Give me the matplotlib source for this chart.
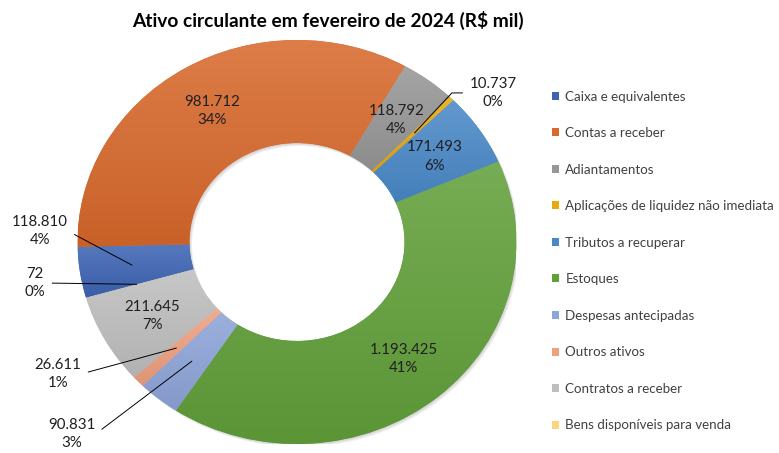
import matplotlib.pyplot as plt
import numpy as np
from matplotlib.colors import to_rgb
from matplotlib.patches import Wedge

categorias = ["Caixa e equivalentes", "Contas a receber", "Adiantamentos",
              "Aplicações de liquidez não imediata", "Tributos a recuperar",
              "Estoques", "Despesas antecipadas", "Outros ativos",
              "Contratos a receber", "Bens disponíveis para venda"]
valores = [118810, 981712, 118792, 10737, 171493, 1193425, 90831, 26611,
           211645, 72]
cores = ['#3D64B4', '#D8692C', '#979797', '#E8A90C', '#4A89C8', '#62A03A',
         '#8EA5D9', '#EFA07F', '#BFBFBF', '#FFD37C']

# etiquetas que ficam fora do anel: posição em unidades do raio
fora = {0: (-1.171, 0.054), 3: (0.893, 0.738), 6: (-1.025, -0.950),
        7: (-1.089, -0.653), 9: (-1.194, -0.203)}

plt.rcParams['font.family'] = ['Lato', 'DejaVu Sans']


def mistura(c, alvo, t):
    c = np.array(to_rgb(c))
    return c + (np.array(alvo) - c) * t


def fmt(v):
    return "{:,}".format(v).replace(",", ".")


fig = plt.figure(figsize=(7.79, 4.53), dpi=100)
ax = fig.add_axes([0.0995, 0.0199, 0.5635, 0.8918])

# sombra suave do anel
for k in range(1, 4):
    ax.add_patch(Wedge((0.004 * k, -0.005 * k), 1.0, 0, 360, width=0.51,
                       facecolor='black', alpha=0.06, lw=0, zorder=0.5))

wedges, _ = ax.pie(valores, colors=cores, startangle=196, counterclock=False,
                   radius=1, wedgeprops=dict(width=0.51, linewidth=0))

# gradiente vertical em cada fatia (claro em cima, escuro embaixo)
for w, c in zip(wedges, cores):
    ext = w.get_path().get_extents()
    grad = np.linspace(0, 1, 64)[:, None, None]
    img = mistura(c, (1, 1, 1), 0.13) * (1 - grad) + mistura(c, (0, 0, 0), 0.07) * grad
    im = ax.imshow(img, extent=(ext.x0, ext.x1, ext.y0, ext.y1), origin='upper',
                   aspect='auto', interpolation='bilinear', zorder=1.5)
    im.set_clip_path(w)

ax.set_aspect('auto')
ax.set_xlim(-1, 1)
ax.set_ylim(-1, 1)
ax.axis('off')

total = sum(valores)
for i, (w, v) in enumerate(zip(wedges, valores)):
    meio = np.deg2rad((w.theta1 + w.theta2) / 2)
    texto = "{}\n{}%".format(fmt(v), int(round(v / total * 100)))
    if i in fora:
        lado = (0, 0.5) if fora[i][0] > 0 else (1, 0.5)
        estilo = "angle,angleA=0,angleB=47,rad=0" if i == 3 else "arc3"
        ax.annotate(texto, xy=(0.76 * np.cos(meio), 0.76 * np.sin(meio)),
                    xytext=fora[i], ha='center', va='center', fontsize=10.8,
                    color='#1F1F1F', linespacing=1.4,
                    arrowprops=dict(arrowstyle='-', color='black', lw=0.7,
                                    relpos=lado, shrinkA=3, shrinkB=0,
                                    connectionstyle=estilo))
    else:
        ax.text(0.755 * np.cos(meio), 0.755 * np.sin(meio), texto,
                ha='center', va='center', fontsize=10.8, color='#1F1F1F',
                linespacing=1.4, zorder=4)

fig.text(0.421, 0.955, "Ativo circulante em fevereiro de 2024 (R$ mil)",
         ha='center', va='center', fontsize=13.8, fontweight='bold')

fig.legend(wedges, categorias, loc='upper left',
           bbox_to_anchor=(0.7086, 0.8002), frameon=False, fontsize=9.6,
           handlelength=0.55, handleheight=0.55, handletextpad=0.45,
           labelspacing=1.84, borderpad=0, borderaxespad=0,
           labelcolor='#404040')

fig.savefig("out.png", dpi=100)
